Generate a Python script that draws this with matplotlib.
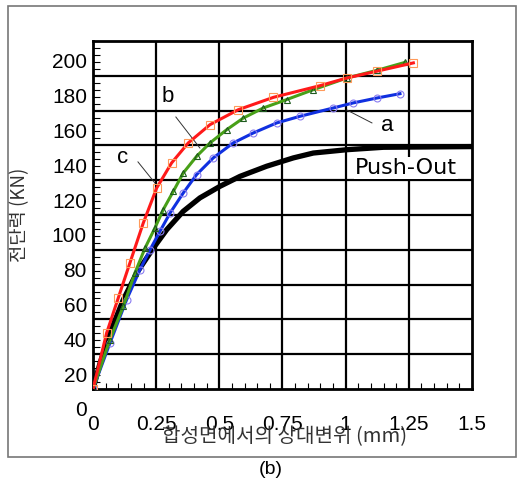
import numpy as np
import matplotlib
matplotlib.use('Agg')
import matplotlib.pyplot as plt
from matplotlib.patches import Rectangle

plt.rcParams['font.family'] = ['Liberation Sans', 'Noto Sans CJK KR']

# slip (mm) / shear force (kN)
x_c = [0, 0.054, 0.100, 0.146, 0.199, 0.252, 0.311, 0.377, 0.463, 0.575, 0.714, 0.898, 1.004, 1.123, 1.268]
y_c = [0, 32.2, 52.3, 72.4, 95.4, 115.5, 129.9, 141.4, 151.9, 160.5, 167.6, 174.3, 178.7, 182.6, 187.4]

x_b = [0, 0.067, 0.120, 0.166, 0.206, 0.245, 0.278, 0.318, 0.357, 0.410, 0.463, 0.529, 0.595, 0.674, 0.766, 0.872, 1.004, 1.123, 1.235]
y_b = [0, 28.4, 47.5, 66.7, 81.0, 92.5, 103.1, 113.6, 124.1, 133.7, 141.4, 149.0, 155.7, 161.5, 166.3, 172.0, 178.7, 183.1, 187.7]

x_a = [0, 0.067, 0.133, 0.186, 0.226, 0.265, 0.305, 0.357, 0.410, 0.476, 0.555, 0.634, 0.727, 0.819, 0.951, 1.030, 1.123, 1.215]
y_a = [0, 26.4, 51.3, 68.6, 80.1, 90.6, 101.1, 112.6, 123.2, 132.8, 141.4, 147.1, 152.9, 156.7, 161.5, 164.4, 167.2, 169.7]

x_po = [0, 0.028, 0.067, 0.120, 0.173, 0.239, 0.292, 0.357, 0.423, 0.503, 0.582, 0.687, 0.793, 0.872, 1.004, 1.149, 1.5]
y_po = [0, 14.9, 32.2, 51.3, 66.7, 81.0, 91.6, 102.1, 109.8, 116.5, 122.2, 128.0, 132.8, 135.6, 137.5, 138.9, 139.3]

xticks = [0, 0.25, 0.5, 0.75, 1, 1.25, 1.5]
xtick_labels = ['0', '0.25', '0.5', '0.75', '1', '1.25', '1.5']
ylabels = [0, 20, 40, 60, 80, 100, 120, 140, 160, 180, 200]
label_shift = 12.6   # the printed y labels sit below their grid lines

fig = plt.figure(figsize=(5.32, 4.82), dpi=100)
ax = fig.add_axes([0.1748, 0.193, 0.7124, 0.722])

# outer frame of the scanned figure
fig.patches.append(Rectangle((0.015, 0.052), 0.955, 0.936, transform=fig.transFigure,
                             fill=False, edgecolor='#777777', lw=1.2))

ax.set_xlim(0, 1.5)
ax.set_ylim(0, 200)

for v in np.arange(0.25, 1.5, 0.25):
    ax.axvline(v, color='black', lw=1.6, zorder=1)
for v in np.arange(20, 200, 20):
    ax.axhline(v, color='black', lw=1.6, zorder=1)
for s in ax.spines.values():
    s.set_linewidth(2)

ax.plot(x_po, y_po, color='black', lw=3.8, zorder=3)
ax.plot(x_a, y_a, color='#1030e0', lw=2.2, marker='o', ms=5, mfc='none', mec='#8a7cf0', mew=0.8, zorder=4)
ax.plot(x_b, y_b, color='#48a018', lw=2.2, marker='^', ms=5, mfc='none', mec='#1e5a1e', mew=0.8, zorder=5)
ax.plot(x_c, y_c, color='#ff1a1a', lw=2.2, marker='s', ms=6, mfc='none', mec='#ff9a5a', mew=0.8, zorder=6)

# ticks
ax.set_xticks(xticks, xtick_labels, fontsize=15)
ax.set_xticks(np.arange(0, 1.5001, 0.05), minor=True)
ax.set_yticks(np.arange(0, 201, 20), [''] * 11)
ax.set_yticks(np.arange(0, 201, 4), minor=True)
ax.tick_params(axis='x', which='major', direction='in', length=0, pad=19)
ax.tick_params(axis='x', which='minor', direction='in', length=4, width=0.8)
ax.tick_params(axis='y', which='major', direction='in', length=0)
ax.tick_params(axis='y', which='minor', direction='in', length=5, width=0.8)

for v in ylabels:
    ax.text(-0.016, v - label_shift, str(v), ha='right', va='center', fontsize=15,
            transform=ax.get_yaxis_transform())

# annotations
ax.text(0.297, 167.8, 'b', fontsize=16, ha='center', va='center')
ax.plot([0.328, 0.423], [156.3, 138.5], color='#333333', lw=0.7)
ax.text(0.119, 132.8, 'c', fontsize=16, ha='center', va='center')
ax.plot([0.178, 0.245], [130.5, 118.4], color='#333333', lw=0.7)
ax.text(1.163, 151.7, 'a', fontsize=16, ha='center', va='center')
ax.plot([1.104, 1.005], [152.9, 160.3], color='#333333', lw=0.7)
ax.text(1.239, 127.0, 'Push-Out', fontsize=16, ha='center', va='center',
        family='DejaVu Sans', bbox=dict(facecolor='white', edgecolor='none', pad=0.5))

ax.set_ylabel('전단력 (KN)', family=['Noto Sans CJK KR', 'DejaVu Sans'], fontsize=13.5,
              color='#333333', labelpad=0)
ax.yaxis.set_label_coords(-0.165, 0.5)
fig.text(0.534, 0.095, '합성면에서의 상대변위 (mm)', family=['Noto Sans CJK KR', 'DejaVu Sans'],
         fontsize=14.5, color='#333333', ha='center', va='center')
fig.text(0.508, 0.025, '(b)', fontsize=14, ha='center', va='center')

fig.savefig('out.png', dpi=100)
